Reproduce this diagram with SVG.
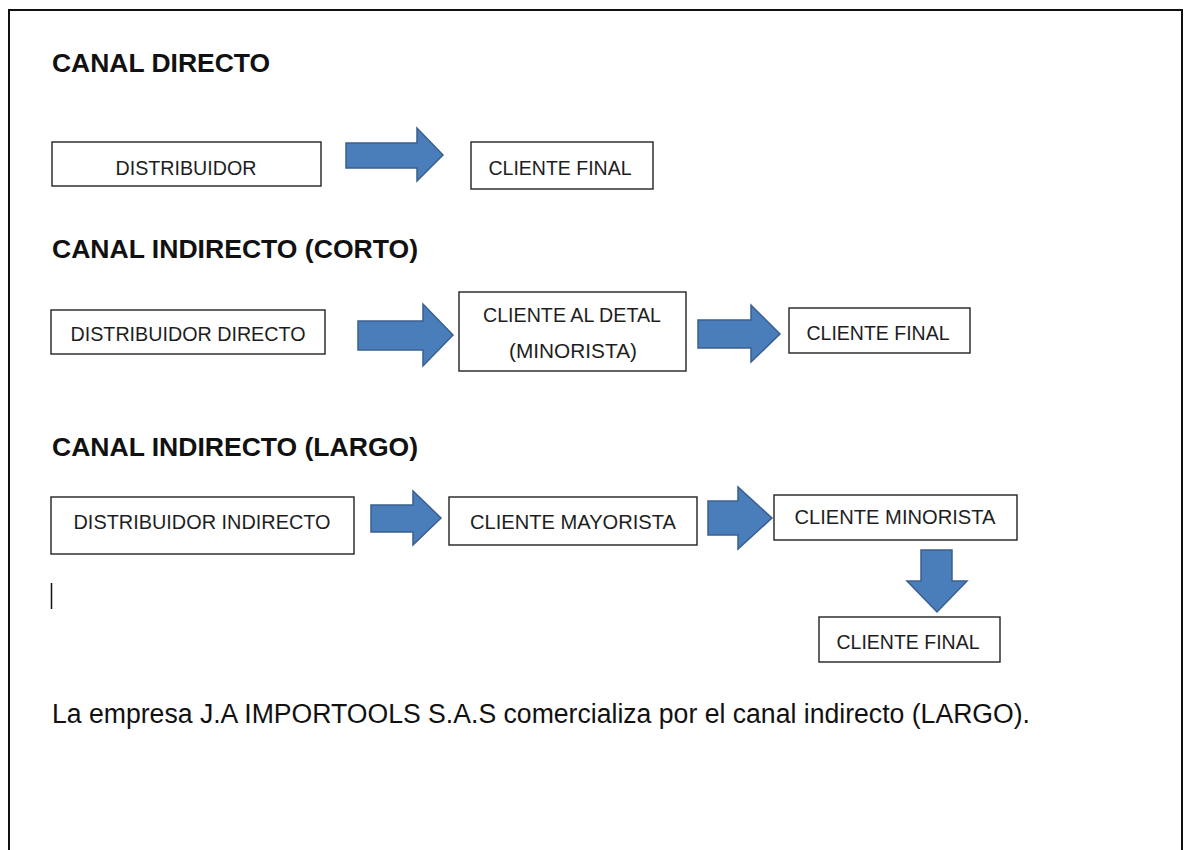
<svg xmlns="http://www.w3.org/2000/svg" width="1184" height="850" viewBox="0 0 1184 850">
<style>
.frame{fill:#fff;stroke:#111;stroke-width:2}
.box{fill:#fff;stroke:#222;stroke-width:1.4}
.bt{font-family:"Liberation Sans",Arial,sans-serif;font-size:21px;fill:#1e1e1e;text-anchor:middle}
.title{font-family:"Liberation Sans",Arial,sans-serif;font-size:26px;font-weight:bold;fill:#111}
.body{font-family:"Liberation Sans",Arial,sans-serif;font-size:27px;fill:#111}
.arrow{fill:#4a7ebb;stroke:#3a5f8f;stroke-width:1.5;stroke-linejoin:miter}
</style>
<rect x="0" y="0" width="1184" height="850" fill="#fff"/>
<rect class="frame" x="9" y="10" width="1173" height="850"/>

<g id="titles">
<text class="title" x="52" y="72" textLength="218" lengthAdjust="spacingAndGlyphs">CANAL DIRECTO</text>
<text class="title" x="52" y="258" textLength="366" lengthAdjust="spacingAndGlyphs">CANAL INDIRECTO (CORTO)</text>
<text class="title" x="52" y="456" textLength="366" lengthAdjust="spacingAndGlyphs">CANAL INDIRECTO (LARGO)</text>
</g>

<g id="n-distribuidor">
<rect class="box" x="52" y="142" width="269" height="44"/>
<text class="bt" x="186" y="175" textLength="141" lengthAdjust="spacingAndGlyphs">DISTRIBUIDOR</text>
</g>
<g id="n-cliente-final-1">
<rect class="box" x="471" y="142" width="182" height="47"/>
<text class="bt" x="560" y="175" textLength="143" lengthAdjust="spacingAndGlyphs">CLIENTE FINAL</text>
</g>

<g id="n-distribuidor-directo">
<rect class="box" x="51" y="310" width="274" height="44"/>
<text class="bt" x="188" y="341" textLength="235" lengthAdjust="spacingAndGlyphs">DISTRIBUIDOR DIRECTO</text>
</g>
<g id="n-cliente-detal">
<rect class="box" x="459" y="292" width="227" height="79"/>
<text class="bt" x="572" y="322" textLength="178" lengthAdjust="spacingAndGlyphs">CLIENTE AL DETAL</text>
<text class="bt" x="573" y="358" textLength="128" lengthAdjust="spacingAndGlyphs">(MINORISTA)</text>
</g>
<g id="n-cliente-final-2">
<rect class="box" x="789" y="308" width="181" height="45"/>
<text class="bt" x="878" y="340" textLength="143" lengthAdjust="spacingAndGlyphs">CLIENTE FINAL</text>
</g>

<g id="n-distribuidor-indirecto">
<rect class="box" x="51" y="497" width="303" height="57"/>
<text class="bt" x="202" y="529" textLength="257" lengthAdjust="spacingAndGlyphs">DISTRIBUIDOR INDIRECTO</text>
</g>
<g id="n-cliente-mayorista">
<rect class="box" x="449" y="497" width="248" height="48"/>
<text class="bt" x="573" y="529" textLength="206" lengthAdjust="spacingAndGlyphs">CLIENTE MAYORISTA</text>
</g>
<g id="n-cliente-minorista">
<rect class="box" x="774" y="495" width="243" height="45"/>
<text class="bt" x="895" y="524" textLength="201" lengthAdjust="spacingAndGlyphs">CLIENTE MINORISTA</text>
</g>
<g id="n-cliente-final-3">
<rect class="box" x="819" y="617" width="181" height="45"/>
<text class="bt" x="908" y="649" textLength="143" lengthAdjust="spacingAndGlyphs">CLIENTE FINAL</text>
</g>

<g id="connectors">
<polygon class="arrow" points="346,143 417,143 417,128 443,155 417,181 417,168 346,168"/>
<polygon class="arrow" points="358,321 423,321 423,304 453,335 423,366 423,350 358,350"/>
<polygon class="arrow" points="698,320 751,320 751,305 780,334 751,362 751,348 698,348"/>
<polygon class="arrow" points="371,505 413,505 413,491 441,518 413,545 413,532 371,532"/>
<polygon class="arrow" points="708,501 738,501 738,487 772,518 738,549 738,535 708,535"/>
<polygon class="arrow" points="921,550 952,550 952,581 967,581 937,612 907,581 921,581"/>
</g>

<line x1="51.5" y1="583" x2="51.5" y2="609" stroke="#111" stroke-width="1.5"/>

<text class="body" x="52" y="723" textLength="978" lengthAdjust="spacingAndGlyphs">La empresa J.A IMPORTOOLS S.A.S comercializa por el canal indirecto (LARGO).</text>
</svg>
